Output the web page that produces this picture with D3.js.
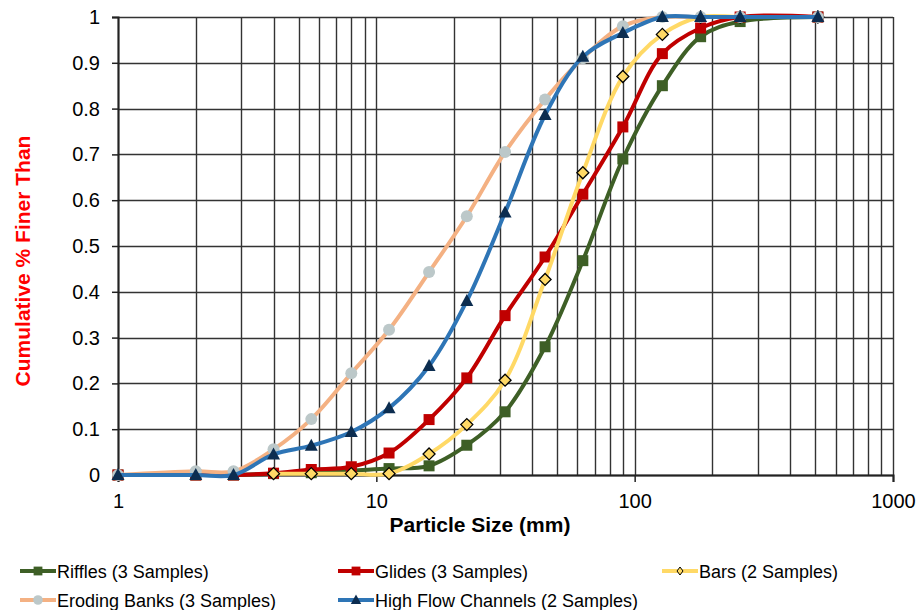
<!DOCTYPE html>
<html>
<head>
<meta charset="utf-8">
<script src="https://cdn.jsdelivr.net/npm/d3@7"></script>
<style>
  body { margin: 0; background: #fff; }
  text { font-family: "Liberation Sans", Arial, sans-serif; }
</style>
</head>
<body>
<div id="chart"></div>
<script>
// sieve sizes (mm)
var sizes = [1, 2, 2.8, 4, 5.6, 8, 11.2, 16, 22.4, 31.5, 45, 63, 90, 128, 180, 256, 512];
var barSizes = [4, 5.6, 8, 11.2, 16, 22.4, 31.5, 45, 63, 90, 128, 180, 256, 512];

var riffles = [0, 0, 0, 0.003, 0.005, 0.01, 0.014, 0.02, 0.065, 0.138, 0.28, 0.468, 0.69, 0.85, 0.957, 0.99, 1];
var glides = [0, 0, 0, 0.004, 0.012, 0.018, 0.048, 0.121, 0.212, 0.348, 0.476, 0.613, 0.76, 0.92, 0.976, 1, 1];
var bars = [0.003, 0.003, 0.003, 0.003, 0.046, 0.11, 0.207, 0.427, 0.66, 0.87, 0.962, 1, 1, 1];
var eroding = [0, 0.008, 0.008, 0.056, 0.122, 0.222, 0.317, 0.443, 0.565, 0.705, 0.82, 0.91, 0.98, 1, 1, 1, 1];
var highFlow = [0, 0, 0, 0.045, 0.064, 0.094, 0.146, 0.238, 0.38, 0.573, 0.786, 0.913, 0.965, 1, 1, 1, 1];

var yTicks = [0, 0.1, 0.2, 0.3, 0.4, 0.5, 0.6, 0.7, 0.8, 0.9, 1];
var xTicks = [1, 10, 100, 1000];

var series = [
  {name: "Riffles (3 Samples)", x: sizes, y: riffles, line: "#3e5f26", fill: "#3e5f26", stroke: "none", shape: "square"},
  {name: "Glides (3 Samples)", x: sizes, y: glides, line: "#c00000", fill: "#c00000", stroke: "none", shape: "square"},
  {name: "Bars (2 Samples)", x: barSizes, y: bars, line: "#ffd966", fill: "#ffd966", stroke: "#000", shape: "diamond"},
  {name: "Eroding Banks (3 Samples)", x: sizes, y: eroding, line: "#f4b183", fill: "#bcc8c9", stroke: "none", shape: "circle"},
  {name: "High Flow Channels (2 Samples)", x: sizes, y: highFlow, line: "#2e75b6", fill: "#0c2d50", stroke: "none", shape: "triangle"}
];

var W = 917, H = 610;
var margin = {top: 17, right: 24, bottom: 135, left: 118};
var width = W - margin.left - margin.right,
    height = H - margin.top - margin.bottom;

var svg = d3.select("#chart").append("svg")
  .attr("width", W).attr("height", H);

var g = svg.append("g")
  .attr("transform", "translate(" + margin.left + "," + margin.top + ")");

var x = d3.scaleLog().domain([1, 1000]).range([0, width]);
var y = d3.scaleLinear().domain([0, 1]).range([height, 0]);

// vertical grid (1..9 per decade)
var vgrid = [];
for (var dec = 1; dec < 1000; dec *= 10) {
  for (var k = 1; k <= 9; k++) vgrid.push(dec * k);
}
vgrid.push(1000);
g.append("g").selectAll("line").data(vgrid).join("line")
  .attr("x1", d => Math.round(x(d)) + 0.5).attr("x2", d => Math.round(x(d)) + 0.5)
  .attr("y1", 0).attr("y2", height)
  .attr("stroke", "#333").attr("stroke-width", 1.4);

g.append("g").selectAll("line").data(yTicks).join("line")
  .attr("x1", 0).attr("x2", width)
  .attr("y1", d => Math.round(y(d)) + 0.5).attr("y2", d => Math.round(y(d)) + 0.5)
  .attr("stroke", "#333").attr("stroke-width", 1.4);

// axes
var yAxis = g.append("g")
  .call(d3.axisLeft(y).tickValues(yTicks).tickFormat(d3.format("")).tickSize(6).tickPadding(12));
var xAxis = g.append("g")
  .attr("transform", "translate(0," + height + ")")
  .call(d3.axisBottom(x).tickValues(xTicks).tickFormat(d3.format("")).tickSize(7).tickPadding(12));
[yAxis, xAxis].forEach(function(a) {
  a.select(".domain").attr("stroke", "#222").attr("stroke-width", 2);
  a.selectAll(".tick line").attr("stroke", "#222").attr("stroke-width", 1.5);
  a.selectAll("text").attr("font-size", 20).attr("fill", "#000")
    .attr("font-family", "Liberation Sans, Arial, sans-serif");
});

// axis titles
svg.append("text")
  .attr("x", 480).attr("y", 532)
  .attr("text-anchor", "middle").attr("font-size", 21).attr("font-weight", "bold")
  .text("Particle Size (mm)");
svg.append("text")
  .attr("transform", "translate(30,261) rotate(-90)")
  .attr("text-anchor", "middle").attr("font-size", 21).attr("font-weight", "bold")
  .attr("fill", "#ff0000")
  .text("Cumulative % Finer Than");

function marker(sel, shape, fill, stroke) {
  if (shape === "square") {
    sel.append("rect").attr("x", -5.5).attr("y", -5.5).attr("width", 11).attr("height", 11)
      .attr("fill", fill);
  } else if (shape === "circle") {
    sel.append("circle").attr("r", 6).attr("fill", fill);
  } else if (shape === "triangle") {
    sel.append("path").attr("d", "M0,-7L6.5,5L-6.5,5Z").attr("fill", fill);
  } else if (shape === "diamond") {
    sel.append("path").attr("d", "M0,-6L6,0L0,6L-6,0Z").attr("fill", fill)
      .attr("stroke", stroke).attr("stroke-width", 1.3);
  }
}

var line = d3.line()
  .x(d => x(d[0])).y(d => y(d[1]))
  .curve(d3.curveCatmullRom.alpha(0.5));

series.forEach(function(s) {
  var pts = s.x.map((v, i) => [v, s.y[i]]);
  g.append("path").datum(pts)
    .attr("d", line).attr("fill", "none")
    .attr("stroke", s.line).attr("stroke-width", 4).attr("stroke-linejoin", "round");
  g.append("g").selectAll("g").data(pts).join("g")
    .attr("transform", d => "translate(" + x(d[0]) + "," + y(d[1]) + ")")
    .each(function() { marker(d3.select(this), s.shape, s.fill, s.stroke); });
});

// legend
var legPos = [[20, 571], [338, 571], [662, 571], [20, 600], [338, 600]];
series.forEach(function(s, i) {
  var lg = svg.append("g").attr("transform", "translate(" + legPos[i][0] + "," + legPos[i][1] + ")");
  lg.append("line").attr("x1", 0).attr("x2", 36).attr("y1", 0).attr("y2", 0)
    .attr("stroke", s.line).attr("stroke-width", 4);
  var m = lg.append("g").attr("transform", "translate(18,0)");
  if (s.shape === "diamond") {
    m.append("path").attr("d", "M0,-4L3,0L0,4L-3,0Z").attr("fill", s.fill)
      .attr("stroke", s.stroke).attr("stroke-width", 1);
  } else {
    var sc = m.append("g").attr("transform", "scale(0.8)");
    marker(sc, s.shape, s.fill, s.stroke);
  }
  lg.append("text").attr("x", 37).attr("y", 6.5).attr("font-size", 18).text(s.name);
});
</script>
</body>
</html>
